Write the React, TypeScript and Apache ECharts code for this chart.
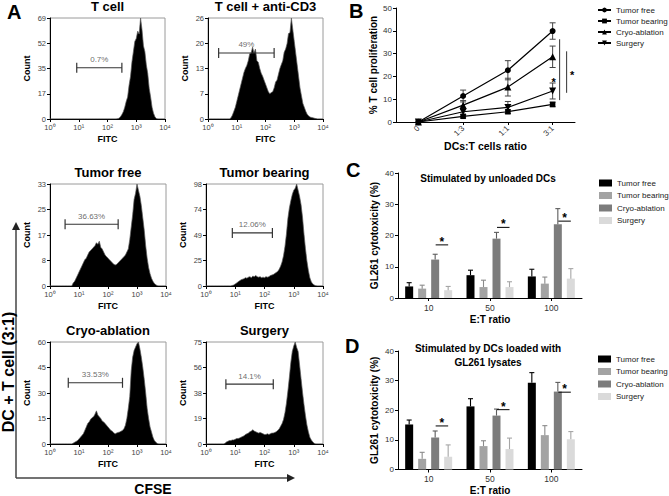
import React, { useEffect, useRef } from 'react';
import * as echarts from 'echarts';

const FONT = '"Liberation Sans", Arial, Helvetica, sans-serif';

// ---------------- Panel A : CFSE dilution histograms ----------------
const HIST_BIN_START = 0; // log10 decade of first bin
const HIST_BIN_WIDTH = 0.05; // decades per bin
const histTitles = ['T cell', 'T cell + anti-CD3', 'Tumor free', 'Tumor bearing', 'Cryo-ablation', 'Surgery'];
const histMax = [69, 26, 33, 98, 60, 75];
const decadeLabels = ['10⁰', '10¹', '10²', '10³', '10⁴'];

const histTCell = [
  0, 0, 0, 0, 0, 0, 0, 0, 0, 0,
  0, 0, 0, 0, 0, 0, 0, 0, 0, 0,
  0, 0, 0, 0, 0, 0, 0, 0, 0, 0,
  0, 0, 0, 0, 0, 0, 0, 0, 0, 0,
  0, 0, 0, 0, 0, 0, 0, 0.2, 0.5, 1.5,
  3, 5, 8, 12, 15, 23, 29, 39, 46, 53,
  55, 60, 58, 69, 61, 50, 46, 37, 31, 21,
  15, 8, 4, 1.5, 0.3, 0, 0, 0, 0, 0,
  0,
];
const histAntiCD3 = [
  0, 0, 0, 0, 0, 0, 0, 0, 0, 0,
  0, 0, 0, 0, 0, 0, 0.3, 1, 2, 3,
  4.5, 6, 7.5, 9, 10.5, 12, 13, 13.8, 15, 16.8,
  17, 18.5, 17, 18, 15, 14.6, 13, 11.8, 11, 10,
  9, 8, 7, 6.5, 6.8, 7, 8, 9.5, 10, 11.5,
  13, 14, 15, 17.2, 18, 19.4, 22, 22.2, 26, 23,
  20, 17, 14, 11, 8, 6, 4, 3, 2, 1.2,
  0.8, 0.5, 0.4, 0.3, 0.2, 0.1, 0, 0, 0, 0,
  0,
];
const histTumorFree = [
  0, 0, 0, 0, 0, 0, 0, 0, 0, 0,
  0, 0, 0, 0, 0, 0, 1, 1.5, 2.5, 3.5,
  4.5, 5.5, 6.5, 7.5, 8.5, 9, 10, 11, 11.5, 12,
  12.5, 13, 14, 13.5, 14.5, 12.5, 12, 11, 10, 9.5,
  9, 8.5, 8, 7.5, 7, 6.8, 7, 7.5, 8, 8.5,
  9, 9.5, 10, 11, 12, 15, 19, 23, 28, 30,
  33, 31, 29, 26, 22, 18, 13, 9, 6, 4,
  2.5, 1.5, 0.8, 0.4, 0.1, 0, 0, 0, 0, 0,
  0,
];
const histTumorBearing = [
  0, 0, 0, 0, 0, 0, 0, 0, 0, 0,
  0, 0, 0, 0, 0, 0, 0, 0, 0.5, 1,
  2, 3, 4, 5, 6, 6.5, 7, 8, 7.5, 8.5,
  9, 8, 9.5, 9, 10, 9, 8.5, 9, 8, 8.5,
  8, 9, 8.5, 9, 10, 10.5, 11, 12, 13, 14,
  16, 19, 23, 29, 38, 50, 65, 75, 82, 88,
  92, 94, 98, 92, 86, 78, 66, 50, 36, 24,
  15, 8, 4, 2, 1, 0.3, 0, 0, 0, 0,
  0,
];
const histCryo = [
  0, 0, 0, 0, 0, 0, 0, 0, 0, 0,
  0, 0, 0, 0, 0, 0, 0.5, 1, 1.5, 2,
  3, 4, 5, 6, 8, 10, 12, 13, 14.5, 15.5,
  16, 17.5, 19.5, 17, 16, 15, 13.5, 13, 12, 11,
  10, 9, 8, 7.5, 6.5, 6, 6.5, 6.8, 7, 7.5,
  8, 9, 11, 15, 21, 28, 43, 51, 55, 57,
  59, 60, 56, 51, 45, 38, 30, 21, 15, 10,
  7, 4, 2, 1, 0.3, 0, 0, 0, 0, 0,
  0,
];
const histSurgery = [
  0, 0, 0, 0, 0, 0, 0, 0, 0, 0,
  0, 0, 0, 0.5, 1.5, 2, 2.5, 2.5, 3, 3,
  3.5, 4, 4, 4.5, 5, 5.5, 6, 7, 7.5, 8,
  9, 9.5, 10.5, 9.5, 9, 8.5, 8, 8.5, 8, 7.5,
  7, 7, 7.5, 7, 7.5, 8, 8, 8.5, 9, 10,
  11, 13, 15, 18, 23, 30, 39, 49, 60, 68,
  72, 75, 71, 68, 58, 48, 38, 29, 21, 14,
  9, 5, 3, 1.5, 0.5, 0, 0, 0, 0, 0,
  0,
];
const histCounts = [histTCell, histAntiCD3, histTumorFree, histTumorBearing, histCryo, histSurgery];

const gateStart = [0.93, 0.37, 0.52, 0.9, 0.63, 0.68];
const gateEnd = [2.5, 2.3, 2.35, 2.27, 2.5, 2.3];
const gateLevel = [35, 17, 20, 51, 36, 44];
const gateLabels = ['0.7%', '49%', '36.63%', '12.06%', '33.53%', '14.1%'];

// ---------------- Panel B : T cell proliferation ----------------
const ratioCategories = ['0', '1:3', '1:1', '3:1'];
const groupNames = ['Tumor free', 'Tumor bearing', 'Cryo-ablation', 'Surgery'];
const profTumorFree = [0, 11.4, 22.7, 39.9];
const profTumorBearing = [0, 2.5, 4.5, 7.7];
const profCryo = [0, 7.4, 15.3, 28.6];
const profSurgery = [0, 4.5, 6.4, 13.6];
const profErrTumorFree = [0, 2.6, 4.2, 3.6];
const profErrTumorBearing = [0, 0.7, 0.8, 1.0];
const profErrCryo = [0, 2.0, 3.9, 4.7];
const profErrSurgery = [0, 1.3, 2.6, 3.5];
const bSigOuter = [36.3, 9.6];
const bSigInner = [31.0, 12.8];
const bSigStar = 21.6;
const bSurgeryStar = 18.5;

// ---------------- Panels C & D : cytotoxicity ----------------
const etCategories = ['10', '50', '100'];
const unloadedTumorFree = [3.7, 7.3, 6.9];
const unloadedTumorBearing = [3.0, 3.5, 4.6];
const unloadedCryo = [12.3, 19.0, 23.6];
const unloadedSurgery = [2.5, 3.5, 6.2];
const unloadedErrTumorFree = [1.2, 1.6, 2.3];
const unloadedErrTumorBearing = [1.1, 2.2, 2.1];
const unloadedErrCryo = [1.7, 2.0, 5.0];
const unloadedErrSurgery = [1.2, 1.7, 3.2];
const unloadedSig = [17.0, 22.6, 24.6];

const lysateTumorFree = [15.2, 21.3, 29.3];
const lysateTumorBearing = [3.6, 7.9, 11.6];
const lysateCryo = [10.8, 18.2, 26.3];
const lysateSurgery = [4.3, 6.9, 10.2];
const lysateErrTumorFree = [1.5, 2.6, 3.4];
const lysateErrTumorBearing = [2.2, 1.8, 3.2];
const lysateErrCryo = [2.2, 2.2, 3.1];
const lysateErrSurgery = [4.0, 3.7, 2.6];
const lysateSig = [14.7, 20.2, 26.1];

const barColors = ['#000000', '#a3a3a3', '#7c7c7c', '#dadada'];
const errColors = ['#000000', '#8a8a8a', '#5c5c5c', '#a6a6a6'];

const histGrids = [
  { left: 50, top: 18, width: 115, height: 101 },
  { left: 208, top: 18, width: 115, height: 101 },
  { left: 50, top: 184, width: 116, height: 102 },
  { left: 206, top: 184, width: 117, height: 102 },
  { left: 50, top: 342, width: 116, height: 102 },
  { left: 206, top: 342, width: 117, height: 102 },
];

function buildOption() {
  const grid: any[] = histGrids.map((g) => ({ ...g, show: true, borderColor: '#9a9a9a', borderWidth: 1 }));
  grid.push({ left: 396, top: 8, width: 179, height: 114 });
  grid.push({ left: 398, top: 173, width: 184, height: 125 });
  grid.push({ left: 398, top: 351, width: 184, height: 120 });

  const xAxis: any[] = [];
  const yAxis: any[] = [];
  const series: any[] = [];
  const blackLine = { show: true, lineStyle: { color: '#000', width: 1 } };

  histGrids.forEach((_, i) => {
    xAxis.push({
      gridIndex: i, type: 'value', min: 0, max: 4, interval: 1,
      axisLine: { ...blackLine, onZero: false },
      axisTick: { show: true, length: 3, lineStyle: { color: '#000' } },
      axisLabel: { fontSize: 7.5, color: '#444', margin: 4, formatter: (v: number) => decadeLabels[Math.round(v)] },
      splitLine: { show: false },
      name: 'FITC', nameLocation: 'middle', nameGap: 15,
      nameTextStyle: { fontSize: 9, fontWeight: 'bold', color: '#000' },
    });
    yAxis.push({
      gridIndex: i, type: 'value', min: 0, max: histMax[i], interval: histMax[i] / 4,
      axisLine: blackLine,
      axisTick: { show: true, length: 3, lineStyle: { color: '#000' } },
      axisLabel: { fontSize: 7.5, color: '#444', margin: 4, formatter: (v: number) => String(Math.round(v)) },
      splitLine: { show: false },
      name: 'Count', nameLocation: 'middle', nameGap: 19,
      nameTextStyle: { fontSize: 9, fontWeight: 'bold', color: '#000' },
    });
    series.push({
      type: 'line', xAxisIndex: i, yAxisIndex: i, silent: true,
      data: histCounts[i].map((c, j) => [HIST_BIN_START + j * HIST_BIN_WIDTH, c]),
      symbol: 'none', lineStyle: { color: '#5a5a5a', width: 0.7 },
      areaStyle: { color: '#000', opacity: 1 }, z: 2,
    });
    series.push({
      type: 'line', xAxisIndex: i, yAxisIndex: i, silent: true,
      data: [[gateStart[i], gateLevel[i]], [gateEnd[i], gateLevel[i]]],
      symbol: 'rect', symbolSize: [1.2, 10], showSymbol: true,
      itemStyle: { color: '#333' }, lineStyle: { color: '#333', width: 1.1 }, z: 3,
    });
    series.push({
      type: 'scatter', xAxisIndex: i, yAxisIndex: i, silent: true,
      data: [[(gateStart[i] + gateEnd[i]) / 2, gateLevel[i]]], symbolSize: 0,
      label: { show: true, position: 'top', distance: 4, formatter: gateLabels[i], fontSize: 8, color: '#444' },
      z: 4,
    });
  });

  // ---- Panel B axes/series (grid 6)
  xAxis.push({
    gridIndex: 6, type: 'category', data: ratioCategories, boundaryGap: true,
    axisLine: blackLine,
    axisTick: { show: true, alignWithLabel: true, length: 3, lineStyle: { color: '#000' } },
    axisLabel: { rotate: 45, fontSize: 8, color: '#333', margin: 5 },
    name: 'DCs:T cells ratio', nameLocation: 'middle', nameGap: 18,
    nameTextStyle: { fontSize: 10.5, fontWeight: 'bold', color: '#000' },
  });
  yAxis.push({
    gridIndex: 6, type: 'value', min: 0, max: 50, interval: 10,
    axisLine: blackLine,
    axisTick: { show: true, length: 3, lineStyle: { color: '#000' } },
    axisLabel: { fontSize: 8, color: '#333', margin: 4 },
    splitLine: { show: false },
    name: '% T cell proliferation', nameLocation: 'middle', nameGap: 18,
    nameTextStyle: { fontSize: 10, fontWeight: 'bold', color: '#000' },
  });
  const profMeans = [profTumorFree, profTumorBearing, profCryo, profSurgery];
  const profErrs = [profErrTumorFree, profErrTumorBearing, profErrCryo, profErrSurgery];
  const profSymbols = ['circle', 'rect', 'triangle', 'triangle'];
  const profSymbolSize = [6, 5.5, 7, 7];
  const profRotate = [0, 0, 0, 180];
  profMeans.forEach((m, s) => {
    series.push({
      name: groupNames[s], type: 'line', xAxisIndex: 6, yAxisIndex: 6,
      data: m, symbol: profSymbols[s], symbolSize: profSymbolSize[s], symbolRotate: profRotate[s],
      showSymbol: true, itemStyle: { color: '#000' }, lineStyle: { color: '#000', width: 1.2 }, z: 4,
    });
    series.push({
      name: 'errB' + s, type: 'custom', xAxisIndex: 6, yAxisIndex: 6, z: 3, silent: true,
      encode: { x: 0, y: 1 },
      data: m.map((v, k) => [k, v, profErrs[s][k]]),
      renderItem: (_p: any, api: any) => {
        const k = api.value(0), v = api.value(1), e = api.value(2);
        if (!e) return { type: 'group', children: [] };
        const top = api.coord([k, v + e]);
        const bot = api.coord([k, v - e]);
        const hw = 3;
        const st = { stroke: '#444', lineWidth: 1 };
        return {
          type: 'group', children: [
            { type: 'line', shape: { x1: top[0], y1: top[1], x2: bot[0], y2: bot[1] }, style: st },
            { type: 'line', shape: { x1: top[0] - hw, y1: top[1], x2: top[0] + hw, y2: top[1] }, style: st },
            { type: 'line', shape: { x1: bot[0] - hw, y1: bot[1], x2: bot[0] + hw, y2: bot[1] }, style: st },
          ],
        };
      },
    });
  });
  series.push({
    name: 'sigB', type: 'custom', xAxisIndex: 6, yAxisIndex: 6, z: 5, silent: true,
    encode: { x: 0, y: 1 },
    data: [[ratioCategories.length - 1, bSigStar]],
    renderItem: (_p: any, api: any) => {
      const k = api.value(0);
      const o1 = api.coord([k, bSigOuter[0]]), o2 = api.coord([k, bSigOuter[1]]);
      const i1 = api.coord([k, bSigInner[0]]), i2 = api.coord([k, bSigInner[1]]);
      const st = api.coord([k, bSigStar]);
      const ss = api.coord([k, bSurgeryStar]);
      const ls = { stroke: '#333', lineWidth: 1 };
      const font = `bold 11px ${FONT}`;
      return {
        type: 'group', children: [
          { type: 'line', shape: { x1: o1[0] + 7, y1: o1[1], x2: o2[0] + 7, y2: o2[1] }, style: ls },
          { type: 'line', shape: { x1: i1[0] + 14, y1: i1[1], x2: i2[0] + 14, y2: i2[1] }, style: ls },
          { type: 'text', style: { text: '*', x: st[0] + 19.5, y: st[1] + 2, fill: '#000', font, align: 'center', verticalAlign: 'middle' } },
          { type: 'text', style: { text: '*', x: ss[0] + 1, y: ss[1] + 2, fill: '#000', font, align: 'center', verticalAlign: 'middle' } },
        ],
      };
    },
  });

  // ---- Panels C & D (grids 7, 8)
  const panels = [
    { gi: 7, key: 'C', means: [unloadedTumorFree, unloadedTumorBearing, unloadedCryo, unloadedSurgery], errs: [unloadedErrTumorFree, unloadedErrTumorBearing, unloadedErrCryo, unloadedErrSurgery], sig: unloadedSig, nameGapX: 16 },
    { gi: 8, key: 'D', means: [lysateTumorFree, lysateTumorBearing, lysateCryo, lysateSurgery], errs: [lysateErrTumorFree, lysateErrTumorBearing, lysateErrCryo, lysateErrSurgery], sig: lysateSig, nameGapX: 15.5 },
  ];
  const BAR_PITCH = 13;
  panels.forEach((p) => {
    xAxis.push({
      gridIndex: p.gi, type: 'category', data: etCategories,
      axisLine: blackLine,
      axisTick: { show: true, alignWithLabel: true, length: 3, lineStyle: { color: '#000' } },
      axisLabel: { fontSize: 8.5, color: '#333', margin: 5 },
      name: 'E:T ratio', nameLocation: 'middle', nameGap: p.nameGapX,
      nameTextStyle: { fontSize: 10, fontWeight: 'bold', color: '#000' },
    });
    yAxis.push({
      gridIndex: p.gi, type: 'value', min: 0, max: 40, interval: 10,
      axisLine: blackLine,
      axisTick: { show: true, length: 3, lineStyle: { color: '#000' } },
      axisLabel: { fontSize: 8, color: '#333', margin: 4 },
      splitLine: { show: false },
      name: 'GL261 cytotoxicity (%)', nameLocation: 'middle', nameGap: 19,
      nameTextStyle: { fontSize: 10, fontWeight: 'bold', color: '#000' },
    });
    p.means.forEach((m, s) => {
      series.push({
        name: p.key + '|' + groupNames[s], type: 'bar', xAxisIndex: p.gi, yAxisIndex: p.gi,
        data: m, barWidth: 8, barGap: '62.5%', itemStyle: { color: barColors[s] }, z: 2,
      });
    });
    p.means.forEach((m, s) => {
      series.push({
        name: 'err' + p.key + s, type: 'custom', xAxisIndex: p.gi, yAxisIndex: p.gi, z: 3, silent: true,
        encode: { x: 0, y: 1 },
        data: m.map((v, k) => [k, v, p.errs[s][k]]),
        renderItem: (_q: any, api: any) => {
          const k = api.value(0), v = api.value(1), e = api.value(2);
          const off = (s - 1.5) * BAR_PITCH;
          const a = api.coord([k, v]);
          const b = api.coord([k, v + e]);
          const st = { stroke: errColors[s], lineWidth: 1.1 };
          return {
            type: 'group', children: [
              { type: 'line', shape: { x1: a[0] + off, y1: a[1], x2: b[0] + off, y2: b[1] }, style: st },
              { type: 'line', shape: { x1: b[0] + off - 2.5, y1: b[1], x2: b[0] + off + 2.5, y2: b[1] }, style: st },
            ],
          };
        },
      });
    });
    series.push({
      name: 'sig' + p.key, type: 'custom', xAxisIndex: p.gi, yAxisIndex: p.gi, z: 4, silent: true,
      encode: { x: 0, y: 1 },
      data: p.sig.map((v, k) => [k, v]),
      renderItem: (_q: any, api: any) => {
        const c = api.coord([api.value(0), api.value(1)]);
        const x1 = c[0] + 7, x2 = c[0] + 19.5;
        return {
          type: 'group', children: [
            { type: 'line', shape: { x1, y1: c[1], x2, y2: c[1] }, style: { stroke: '#000', lineWidth: 1 } },
            { type: 'text', style: { text: '*', x: (x1 + x2) / 2, y: c[1] - 3, fill: '#000', font: `bold 12px ${FONT}`, align: 'center', verticalAlign: 'middle' } },
          ],
        };
      },
    });
  });

  const legendText = { fontSize: 8, color: '#222', fontFamily: FONT };
  const legend = [
    { left: 592, top: 1, orient: 'vertical', itemWidth: 13, itemHeight: 6, itemGap: 3, selectedMode: false, textStyle: legendText, data: groupNames },
    { left: 594, top: 174, orient: 'vertical', itemWidth: 13, itemHeight: 7, itemGap: 4.5, icon: 'rect', selectedMode: false, textStyle: legendText, data: groupNames.map((n) => 'C|' + n), formatter: (n: string) => n.split('|')[1] },
    { left: 593, top: 350, orient: 'vertical', itemWidth: 13, itemHeight: 7, itemGap: 4.5, icon: 'rect', selectedMode: false, textStyle: legendText, data: groupNames.map((n) => 'D|' + n), formatter: (n: string) => n.split('|')[1] },
  ];

  const titlePos = [[107.5, 6], [265.5, 6], [108, 172.5], [264.5, 172.5], [108, 330], [264.5, 330]];
  const graphic: any[] = [];
  histTitles.forEach((t, i) => {
    graphic.push({ type: 'text', x: titlePos[i][0], y: titlePos[i][1], style: { text: t, font: `bold 13px ${FONT}`, fill: '#000', textAlign: 'center', textVerticalAlign: 'middle' } });
  });
  const letters = [['A', 7, 12], ['B', 349, 11], ['C', 346, 170], ['D', 345, 346]];
  letters.forEach(([t, x, y]) => {
    graphic.push({ type: 'text', x, y, style: { text: t, font: `bold 20px ${FONT}`, fill: '#000', textAlign: 'left', textVerticalAlign: 'middle' } });
  });
  graphic.push({ type: 'line', shape: { x1: 16, y1: 478, x2: 16, y2: 229 }, style: { stroke: '#444', lineWidth: 1.5 } });
  graphic.push({ type: 'polygon', shape: { points: [[12, 230], [20, 230], [16, 222]] }, style: { fill: '#222' } });
  graphic.push({ type: 'line', shape: { x1: 16, y1: 478, x2: 288, y2: 478 }, style: { stroke: '#444', lineWidth: 1.5 } });
  graphic.push({ type: 'polygon', shape: { points: [[287, 474], [287, 482], [295, 478]] }, style: { fill: '#222' } });
  graphic.push({ type: 'text', x: 153, y: 489, style: { text: 'CFSE', font: `bold 14px ${FONT}`, fill: '#000', textAlign: 'center', textVerticalAlign: 'middle' } });
  graphic.push({ type: 'text', x: 8, y: 372, rotation: Math.PI / 2, style: { text: 'DC + T cell (3:1)', font: `bold 16px ${FONT}`, fill: '#000', textAlign: 'center', textVerticalAlign: 'middle' } });
  graphic.push({ type: 'text', x: 488, y: 178, style: { text: 'Stimulated by unloaded DCs', font: `bold 10px ${FONT}`, fill: '#000', textAlign: 'center', textVerticalAlign: 'middle' } });
  graphic.push({ type: 'text', x: 488, y: 348, style: { text: 'Stimulated by DCs loaded with', font: `bold 10px ${FONT}`, fill: '#000', textAlign: 'center', textVerticalAlign: 'middle' } });
  graphic.push({ type: 'text', x: 488, y: 362, style: { text: 'GL261 lysates', font: `bold 10px ${FONT}`, fill: '#000', textAlign: 'center', textVerticalAlign: 'middle' } });

  return {
    animation: false,
    backgroundColor: '#ffffff',
    textStyle: { fontFamily: FONT },
    grid, xAxis, yAxis, series, legend, graphic,
  };
}

export default function App() {
  const ref = useRef<HTMLDivElement>(null);
  useEffect(() => {
    if (!ref.current) return;
    const chart = echarts.init(ref.current, undefined, { renderer: 'svg' });
    chart.setOption(buildOption() as any);
    return () => chart.dispose();
  }, []);
  return <div ref={ref} style={{ position: 'absolute', left: 0, top: 0, width: 669, height: 496 }} />;
}
